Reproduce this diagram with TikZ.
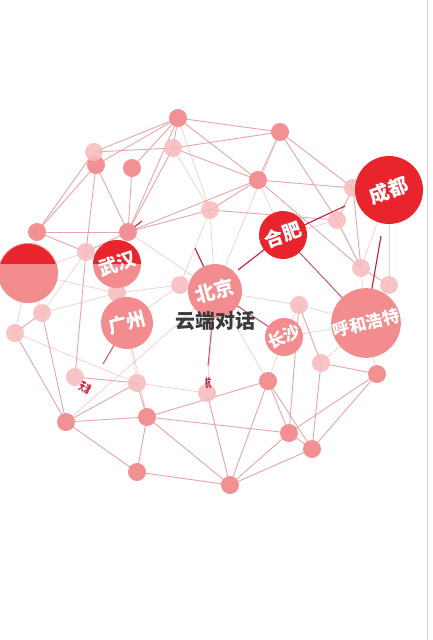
\documentclass[tikz,border=0pt]{standalone}
\usepackage{fontspec}
\newfontfamily\cjk{Noto Sans CJK SC}
\definecolor{nodepink}{HTML}{F29194}
\definecolor{nodelight}{HTML}{F7BCBE}
\definecolor{bigpink}{HTML}{F28C8E}
\definecolor{bigred}{HTML}{E8242D}
\definecolor{edgec}{HTML}{E6A6AC}
\definecolor{darkedge}{HTML}{C9566A}
\definecolor{accentred}{HTML}{C41E3A}
\definecolor{titlegray}{HTML}{3A3A3A}
\tikzset{
  dot/.style={circle, fill=nodepink, inner sep=0pt, minimum size=18pt},
  ldot/.style={dot, fill=nodelight, fill opacity=0.85},
  big/.style={circle, inner sep=0pt, fill=bigpink, text=white},
  bigfs/.style={font=\cjk\bfseries\fontsize{#1}{#1}\selectfont},
  edge/.style={draw=edgec, line width=0.9pt},
  fedge/.style={draw=edgec, line width=0.8pt, draw opacity=0.5},
  dedge/.style={draw=darkedge, line width=1pt},
  accent/.style={draw=accentred, line width=1.1pt}
}
\begin{document}
\begin{tikzpicture}[x=1pt,y=-1pt]
\useasboundingbox (0,0) rectangle (432,640);
\fill[white] (0,0) rectangle (432,640);
\draw[black!18, line width=0.8pt] (427.5,0) -- (427.5,640);
% coordinates of small nodes
\coordinate (A) at (178,118);
\coordinate (B) at (280,132);
\coordinate (C) at (94,152);
\coordinate (D) at (96,165);
\coordinate (E) at (173,148);
\coordinate (F) at (132,168);
\coordinate (G) at (258,180);
\coordinate (H) at (210,210);
\coordinate (I) at (37,232);
\coordinate (J) at (128,232);
\coordinate (K) at (86,252);
\coordinate (L) at (353,188);
\coordinate (M) at (337,220);
\coordinate (N) at (361,268);
\coordinate (O) at (389,285);
\coordinate (P) at (180,285);
\coordinate (Q) at (117,293);
\coordinate (R) at (42,313);
\coordinate (S) at (15,333);
\coordinate (T) at (75,377);
\coordinate (U) at (137,383);
\coordinate (V) at (66,422);
\coordinate (W) at (147,417);
\coordinate (X) at (137,472);
\coordinate (Y) at (207,393);
\coordinate (Z) at (299,305);
\coordinate (AA) at (321,363);
\coordinate (AB) at (377,374);
\coordinate (AC) at (268,381);
\coordinate (AD) at (289,433);
\coordinate (AE) at (312,449);
\coordinate (AF) at (230,485);
% big node centres
\coordinate (lb) at (28,273);
\coordinate (wh) at (117,264);
\coordinate (bj) at (215,291);
\coordinate (gz) at (127,323);
\coordinate (hf) at (283,235);
\coordinate (cd) at (389,190);
\coordinate (cs) at (284,337);
\coordinate (hh) at (366,323);
% accent end points
\coordinate (a1) at (142,221);
\coordinate (a2) at (195,248);
\coordinate (a3) at (345,206);
\coordinate (a4) at (238,270);
\coordinate (a5) at (381,236);
\coordinate (a6) at (103,364);
\coordinate (a7) at (208,366);
% edges
\foreach \u/\v in {A/B,A/E,A/C,A/D,A/F,A/J,A/G,B/E,B/G,B/L,B/M,C/E,C/D,C/I,D/I,D/K,D/J,
  E/J,E/G,F/J,G/H,G/L,G/J,G/N,H/J,H/M,I/K,I/J,J/K,L/N,L/M,M/N,N/O,
  R/S,R/V,S/V,T/U,T/K,U/V,U/W,V/W,V/X,W/X,W/AC,W/AD,W/AF,X/AF,Y/AF,
  Z/AD,Z/AA,AA/AB,AA/AE,AB/AD,AB/AE,AC/AD,AC/AE,AC/AF,AD/AE,AD/AF,AE/AF}
  {\draw[edge] (\u) -- (\v);}
\foreach \u/\v in {B/bj,E/H,G/hf,H/P,H/bj,I/lb,J/wh,J/bj,K/wh,K/lb,K/R,L/cd,M/hf,N/hh,N/cd,
  O/hh,O/cd,P/Q,P/bj,P/gz,Q/wh,Q/gz,Q/lb,R/lb,R/Q,S/U,S/lb,U/Y,U/gz,V/bj,W/gz,Y/bj,
  Z/cs,Z/hh,Z/bj,AA/hh,AB/hh,AC/cs,AC/bj,cs/hh,A/H}
  {\draw[fedge] (\u) -- (\v);}
\draw[dedge] (bj) -- (cs);
\draw[dedge] (hf) -- (hh);
\draw[accent] (J) -- (a1);
\draw[accent] (a2) -- (bj);
\draw[accent] (hf) -- (a3);
\draw[accent] (hf) -- (a4);
\draw[accent] (a5) -- (hh);
\draw[dedge] (gz) -- (a6);
\draw[dedge] (bj) -- (a7);
% small nodes
\foreach \n in {A,B,D,F,G,I,J,V,W,X,AB,AC,AD,AE,AF}
  {\node[dot] (n\n) at (\n) {};}
\foreach \n in {C,E,H,K,L,M,N,O,P,Q,R,S,T,U,Y,Z,AA}
  {\node[ldot] (n\n) at (\n) {};}
% half red / half pink circles
\fill[bigpink] (lb) circle (30pt);
\fill[bigpink] (wh) circle (24pt);
\begin{scope}
  \clip (0,0) rectangle (432,263);
  \fill[bigred] (lb) circle (29pt);
  \fill[bigred] (wh) circle (24pt);
\end{scope}
% big nodes with labels
\node[big, fill=none, minimum size=48pt, rotate=18, bigfs=19] (nwh) at (wh) {武汉};
\node[big, minimum size=54pt, rotate=15, bigfs=20] (nbj) at (bj) {北京};
\node[big, minimum size=52pt, rotate=14, bigfs=19] (ngz) at (gz) {广州};
\node[big, minimum size=48pt, fill=bigred, rotate=20, bigfs=19] (nhf) at (hf) {合肥};
\node[big, minimum size=68pt, fill=bigred, rotate=20, bigfs=20] (ncd) at (cd) {成都};
\node[big, minimum size=38pt, rotate=24, bigfs=17] (ncs) at (cs) {长沙};
\node[big, minimum size=68pt, rotate=14, bigfs=17] (nhh) at (hh) {呼和浩特};
% fragments of labels
\node[text=accentred, font=\cjk\bfseries\fontsize{12}{12}\selectfont, rotate=-25, xscale=0.45] (tfr1) at (85,388) {天津};
\node[text=accentred, font=\cjk\bfseries\fontsize{12}{12}\selectfont, xscale=0.5] (tfr2) at (208,383) {杭};
% title
\node[text=titlegray, font=\cjk\bfseries\fontsize{20}{20}\selectfont] (title) at (215,321) {云端对话};
\end{tikzpicture}
\end{document}
